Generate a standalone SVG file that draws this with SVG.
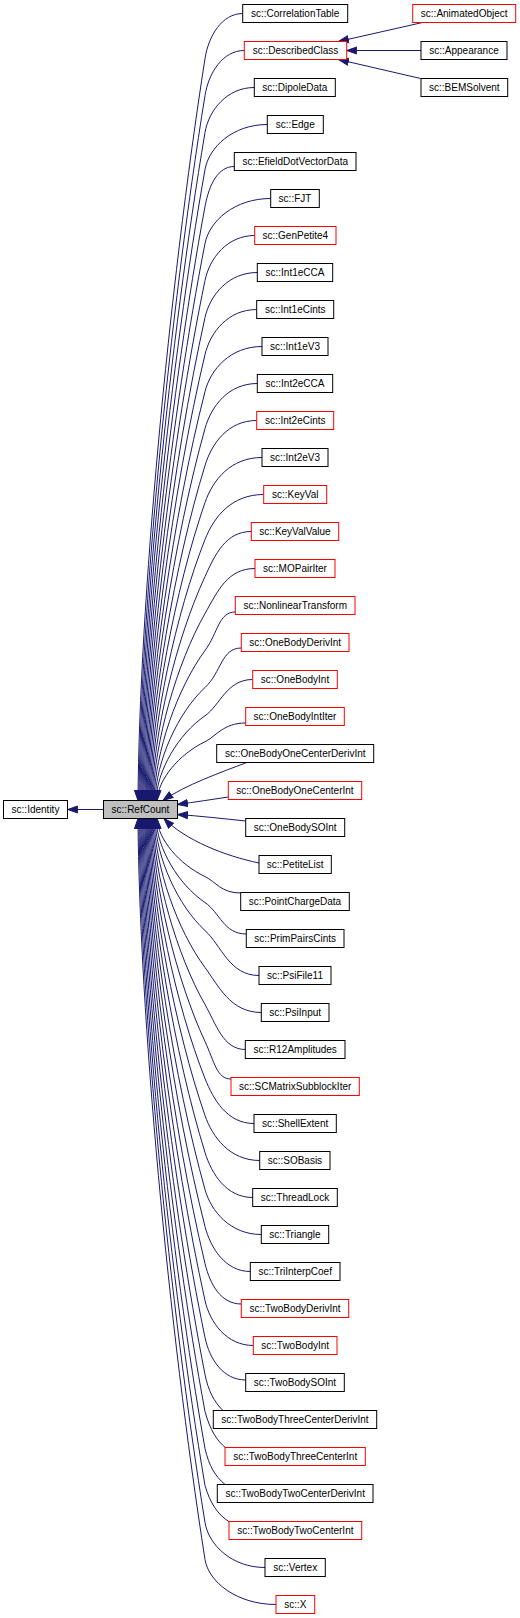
<svg xmlns="http://www.w3.org/2000/svg" width="520" height="1618" viewBox="0 0 520 1618">
<style>
.b rect{fill:#fff;stroke:#000;stroke-width:1}
.r rect{fill:#fff;stroke:#ff0000;stroke-width:1}
.g rect{fill:#bfbfbf;stroke:#000;stroke-width:1}
text{font-family:"Liberation Sans",Arial,sans-serif;font-size:10px;text-anchor:middle;fill:#000}
#edges path{fill:none;stroke:#191970;stroke-width:1;marker-end:url(#ah)}
</style>
<defs>
<marker id="ah" markerUnits="userSpaceOnUse" markerWidth="12" markerHeight="9" refX="10.5" refY="4.5" orient="auto">
<path d="M0.5,1 L10.5,4.5 L0.5,8 z" fill="#191970" stroke="#191970" stroke-width="1"/>
</marker>
</defs>
<rect width="520" height="1618" fill="#fff"/>
<g id="edges">
<path d="M103.5,809.5 L67.7,809.5"/>
<path d="M421.7,22.7 L338.5,41.5"/>
<path d="M421,50.5 L346.7,50.5"/>
<path d="M420.7,78.5 L338.5,59.5"/>
<path d="M242.7,13.5 C222,13.5 208.5,36 205,58.5 C168.8,291.2 139.3,603.8 138,800.5"/>
<path d="M244.3,50.5 C222.7,50.5 208.6,73 205,95.5 C169.4,316 140.3,613 139,800.5"/>
<path d="M254.3,87.5 C227.2,87.5 208.8,110 205,132.5 C169.9,340.8 141.3,622.3 140,800.5"/>
<path d="M267.3,124.5 C233,124.5 209,147 205,169.5 C170.4,365.6 142.3,631.5 141,800.5"/>
<path d="M234.3,166.5 C218.2,166.5 209.2,184 205,206.5 C171,390.4 143.3,640.8 142,800.5"/>
<path d="M270.7,198.5 C234.6,198.5 209.4,221 205,243.5 C171.5,415.2 144.2,650 143,800.5"/>
<path d="M254.7,235.5 C227.4,235.5 209.6,258 205,280.5 C172.1,440 145.2,659.3 144,800.5"/>
<path d="M257.3,272.5 C228.5,272.5 210,295 205,317.5 C172.6,464.7 146.2,668.5 145,800.5"/>
<path d="M256.7,309.5 C228.3,309.5 210.3,332 205,354.5 C173.1,489.5 147.2,677.8 146,800.5"/>
<path d="M262,346.5 C230.7,346.5 210.7,369 205,391.5 C173.7,514.3 148.2,687 147,800.5"/>
<path d="M257.3,383.5 C228.5,383.5 211.3,406 205,428.5 C174.2,539.1 149.1,696.3 148,800.5"/>
<path d="M256.7,420.5 C228.3,420.5 211.9,443 205,465.5 C174.8,563.9 150.1,705.5 149,800.5"/>
<path d="M262,457.5 C230.7,457.5 212.8,480 205,502.5 C175.3,588.7 151.1,714.8 150,800.5"/>
<path d="M263.7,494.5 C231.4,494.5 213.9,517 205,539.5 C175.8,613.5 152.1,724 151,800.5"/>
<path d="M251.3,531.5 C225.8,531.5 215.4,554 205,576.5 C176.4,638.3 153.1,733.3 152,800.5"/>
<path d="M255,568.5 C227.5,568.5 217.8,591 205,613.5 C176.9,663.1 154,742.5 153,800.5"/>
<path d="M235.3,612 C218.6,612 218.3,632.4 205,650.5 C177.5,687.9 155,751.8 154,800.5"/>
<path d="M241.3,648 C221.3,648 221.5,672.2 205,687.5 C178,712.6 156,761 155,800.5"/>
<path d="M252.7,679.5 C226.5,679.5 220,705.5 205,715.8 C178.5,734 157,770.3 156,800.5"/>
<path d="M245.7,723 C223.3,723 216.3,736.2 205,741.7 C179.1,754.3 158,779.5 157,800.5"/>
<path d="M246.7,762.5 C222,772 185,785 163,800.5"/>
<path d="M228.3,797 C212,799.5 195,802 177.5,804.5"/>
<path d="M245.7,821 C222,818.5 200,816 177.5,814.5"/>
<path d="M259,863 C225,856 185,840 164,818.5"/>
<path d="M240.7,893 C221.1,893 216.2,882 205,876.6 C179.1,864.2 158,839.3 157,818.5"/>
<path d="M246.3,934 C223.6,934 219.9,912.6 205,902.5 C178.5,884.5 157,848.5 156,818.5"/>
<path d="M259,975.5 C229.3,975.5 221.6,945.7 205,930.5 C178,905.7 156,857.8 155,818.5"/>
<path d="M261.3,1012.5 C230.3,1012.5 218.4,985.5 205,967.5 C177.5,930.5 155,867 154,818.5"/>
<path d="M245.3,1049.5 C223.1,1049.5 216.1,1024.1 205,1004.5 C176.9,955.3 154,876.3 153,818.5"/>
<path d="M231,1079 C216.7,1079 214.5,1061.9 205,1041.5 C176.4,980.1 153.1,885.5 152,818.5"/>
<path d="M254,1123.5 C227.1,1123.5 213.3,1099.4 205,1078.5 C175.8,1004.9 152.1,894.8 151,818.5"/>
<path d="M259.7,1160.5 C229.6,1160.5 212.4,1136.8 205,1115.5 C175.3,1029.6 151.1,904 150,818.5"/>
<path d="M252.7,1197.5 C226.5,1197.5 211.6,1174 205,1152.5 C174.8,1054.4 150.1,913.3 149,818.5"/>
<path d="M261.3,1234.5 C230.3,1234.5 211,1211.2 205,1189.5 C174.2,1079.2 149.1,922.5 148,818.5"/>
<path d="M250.3,1271.5 C225.4,1271.5 210.6,1248.2 205,1226.5 C173.7,1104 148.2,931.8 147,818.5"/>
<path d="M241.3,1304 C221.3,1304 210.2,1285.1 205,1263.5 C173.1,1128.8 147.2,941 146,818.5"/>
<path d="M253.3,1345.5 C226.7,1345.5 209.9,1322.5 205,1300.5 C172.6,1153.6 146.2,950.3 145,818.5"/>
<path d="M245.7,1380 C223.3,1380 209.6,1359.5 205,1337.5 C172.1,1178.4 145.2,959.5 144,818.5"/>
<path d="M223,1410.5 C214,1402 208,1390 205,1374.5 C171.5,1203.2 144.2,968.8 143,818.5"/>
<path d="M226,1448 C217,1441 210,1430 205,1411.5 C171,1228 143.3,978 142,818.5"/>
<path d="M225,1484.5 C215,1476 209,1466 205,1448.5 C170.4,1252.8 142.3,987.3 141,818.5"/>
<path d="M229.5,1522 C218,1515 210,1503 205,1485.5 C169.9,1277.5 141.3,996.5 140,818.5"/>
<path d="M265,1567.5 C232,1567.5 208.6,1545 205,1522.5 C169.4,1302.3 140.3,1005.8 139,818.5"/>
<path d="M276,1604.5 C237,1604.5 208.5,1582 205,1559.5 C168.8,1327.1 139.3,1015 138,818.5"/>
</g>
<g id="n-identity" class="b"><rect x="3.5" y="800.5" width="64" height="18"/><text x="35.5" y="813">sc::Identity</text></g>
<g id="n-refcount" class="g"><rect x="103.5" y="800.5" width="74" height="18"/><text x="140.5" y="813">sc::RefCount</text></g>
<g id="n-animatedobject" class="r"><rect x="412.7" y="4.5" width="103" height="18"/><text x="464.2" y="17">sc::AnimatedObject</text></g>
<g id="n-appearance" class="b"><rect x="421" y="41.5" width="86" height="18"/><text x="464" y="54">sc::Appearance</text></g>
<g id="n-bemsolvent" class="b"><rect x="421" y="78.5" width="86.7" height="18"/><text x="464.3" y="91">sc::BEMSolvent</text></g>
<g id="n-correlationtable" class="b"><rect x="242.7" y="4.5" width="105" height="18"/><text x="295.2" y="17">sc::CorrelationTable</text></g>
<g id="n-describedclass" class="r"><rect x="244.3" y="41.5" width="102.4" height="18"/><text x="295.5" y="54">sc::DescribedClass</text></g>
<g id="n-dipoledata" class="b"><rect x="254.3" y="78.5" width="81" height="18"/><text x="294.8" y="91">sc::DipoleData</text></g>
<g id="n-edge" class="b"><rect x="267.3" y="115.5" width="56" height="18"/><text x="295.3" y="128">sc::Edge</text></g>
<g id="n-efielddotvectordata" class="b"><rect x="234.3" y="152.5" width="121.7" height="18"/><text x="295.2" y="165">sc::EfieldDotVectorData</text></g>
<g id="n-fjt" class="b"><rect x="270.7" y="189.5" width="48.6" height="18"/><text x="295" y="202">sc::FJT</text></g>
<g id="n-genpetite4" class="r"><rect x="254.7" y="226.5" width="81.3" height="18"/><text x="295.3" y="239">sc::GenPetite4</text></g>
<g id="n-int1ecca" class="b"><rect x="257.3" y="263.5" width="75.4" height="18"/><text x="295" y="276">sc::Int1eCCA</text></g>
<g id="n-int1ecints" class="b"><rect x="256.7" y="300.5" width="77" height="18"/><text x="295.2" y="313">sc::Int1eCints</text></g>
<g id="n-int1ev3" class="b"><rect x="262" y="337.5" width="66" height="18"/><text x="295" y="350">sc::Int1eV3</text></g>
<g id="n-int2ecca" class="b"><rect x="257.3" y="374.5" width="75.4" height="18"/><text x="295" y="387">sc::Int2eCCA</text></g>
<g id="n-int2ecints" class="r"><rect x="256.7" y="411.5" width="77" height="18"/><text x="295.2" y="424">sc::Int2eCints</text></g>
<g id="n-int2ev3" class="b"><rect x="262" y="448.5" width="66" height="18"/><text x="295" y="461">sc::Int2eV3</text></g>
<g id="n-keyval" class="r"><rect x="263.7" y="485.5" width="63" height="18"/><text x="295.2" y="498">sc::KeyVal</text></g>
<g id="n-keyvalvalue" class="r"><rect x="251.3" y="522.5" width="87.4" height="18"/><text x="295" y="535">sc::KeyValValue</text></g>
<g id="n-mopairiter" class="r"><rect x="255" y="559.5" width="80" height="18"/><text x="295" y="572">sc::MOPairIter</text></g>
<g id="n-nonlineartransform" class="r"><rect x="235.3" y="596.5" width="119.7" height="18"/><text x="295.2" y="609">sc::NonlinearTransform</text></g>
<g id="n-onebodyderivint" class="r"><rect x="241.3" y="633.5" width="107.7" height="18"/><text x="295.2" y="646">sc::OneBodyDerivInt</text></g>
<g id="n-onebodyint" class="r"><rect x="252.7" y="670.5" width="84.6" height="18"/><text x="295" y="683">sc::OneBodyInt</text></g>
<g id="n-onebodyintiter" class="r"><rect x="245.7" y="707.5" width="98.6" height="18"/><text x="295" y="720">sc::OneBodyIntIter</text></g>
<g id="n-onebodyonecenterderivint" class="b"><rect x="216.7" y="744.5" width="157" height="18"/><text x="295.2" y="757">sc::OneBodyOneCenterDerivInt</text></g>
<g id="n-onebodyonecenterint" class="r"><rect x="228.3" y="781.5" width="133.4" height="18"/><text x="295" y="794">sc::OneBodyOneCenterInt</text></g>
<g id="n-onebodysoint" class="b"><rect x="245.7" y="818.5" width="99" height="18"/><text x="295.2" y="831">sc::OneBodySOInt</text></g>
<g id="n-petitelist" class="b"><rect x="259" y="855.5" width="72.3" height="18"/><text x="295.2" y="868">sc::PetiteList</text></g>
<g id="n-pointchargedata" class="b"><rect x="240.7" y="892.5" width="108.6" height="18"/><text x="295" y="905">sc::PointChargeData</text></g>
<g id="n-primpairscints" class="b"><rect x="246.3" y="929.5" width="97.7" height="18"/><text x="295.2" y="942">sc::PrimPairsCints</text></g>
<g id="n-psifile11" class="b"><rect x="259" y="966.5" width="72" height="18"/><text x="295" y="979">sc::PsiFile11</text></g>
<g id="n-psiinput" class="b"><rect x="261.3" y="1003.5" width="67.7" height="18"/><text x="295.2" y="1016">sc::PsiInput</text></g>
<g id="n-r12amplitudes" class="b"><rect x="245.3" y="1040.5" width="99.7" height="18"/><text x="295.2" y="1053">sc::R12Amplitudes</text></g>
<g id="n-scmatrixsubblockiter" class="r"><rect x="231" y="1077.5" width="128.3" height="18"/><text x="295.2" y="1090">sc::SCMatrixSubblockIter</text></g>
<g id="n-shellextent" class="b"><rect x="254" y="1114.5" width="82.3" height="18"/><text x="295.2" y="1127">sc::ShellExtent</text></g>
<g id="n-sobasis" class="b"><rect x="259.7" y="1151.5" width="70.3" height="18"/><text x="294.9" y="1164">sc::SOBasis</text></g>
<g id="n-threadlock" class="b"><rect x="252.7" y="1188.5" width="84.6" height="18"/><text x="295" y="1201">sc::ThreadLock</text></g>
<g id="n-triangle" class="b"><rect x="261.3" y="1225.5" width="67.4" height="18"/><text x="295" y="1238">sc::Triangle</text></g>
<g id="n-triinterpcoef" class="b"><rect x="250.3" y="1262.5" width="89.7" height="18"/><text x="295.2" y="1275">sc::TriInterpCoef</text></g>
<g id="n-twobodyderivint" class="r"><rect x="241.3" y="1299.5" width="107.4" height="18"/><text x="295" y="1312">sc::TwoBodyDerivInt</text></g>
<g id="n-twobodyint" class="r"><rect x="253.3" y="1336.5" width="83.7" height="18"/><text x="295.2" y="1349">sc::TwoBodyInt</text></g>
<g id="n-twobodysoint" class="b"><rect x="245.7" y="1373.5" width="98.6" height="18"/><text x="295" y="1386">sc::TwoBodySOInt</text></g>
<g id="n-twobodythreecenterderivint" class="b"><rect x="213.3" y="1410.5" width="163.4" height="18"/><text x="295" y="1423">sc::TwoBodyThreeCenterDerivInt</text></g>
<g id="n-twobodythreecenterint" class="r"><rect x="225" y="1447.5" width="140.3" height="18"/><text x="295.2" y="1460">sc::TwoBodyThreeCenterInt</text></g>
<g id="n-twobodytwocenterderivint" class="b"><rect x="217.3" y="1484.5" width="155.7" height="18"/><text x="295.2" y="1497">sc::TwoBodyTwoCenterDerivInt</text></g>
<g id="n-twobodytwocenterint" class="r"><rect x="229" y="1521.5" width="132.7" height="18"/><text x="295.4" y="1534">sc::TwoBodyTwoCenterInt</text></g>
<g id="n-vertex" class="b"><rect x="265" y="1558.5" width="60.3" height="18"/><text x="295.2" y="1571">sc::Vertex</text></g>
<g id="n-x" class="r"><rect x="276" y="1595.5" width="38.7" height="18"/><text x="295.4" y="1608">sc::X</text></g>
</svg>
